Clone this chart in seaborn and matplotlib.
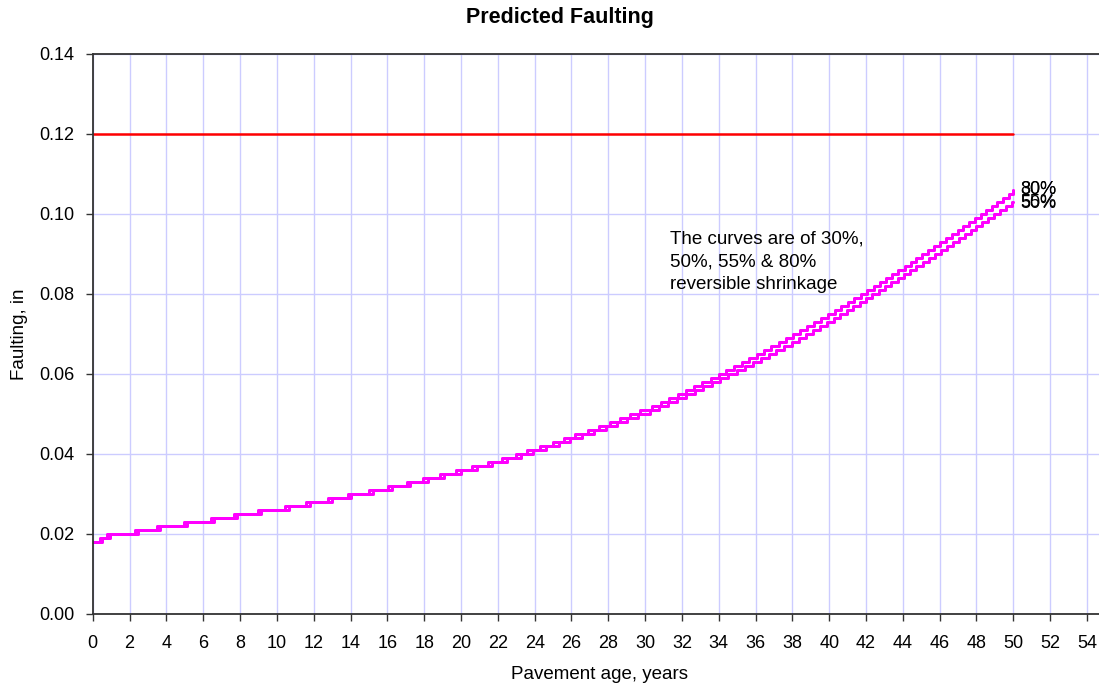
import numpy as np
import pandas as pd
import seaborn as sns
import matplotlib.pyplot as plt
from matplotlib.ticker import FormatStrFormatter

# age (years) at which each faulting level is first reached
upper_age = [0.0, 0.4, 0.8, 2.3, 3.5, 4.95, 6.4, 7.65, 8.95, 10.45, 11.6, 12.8, 13.85,
             15.0, 16.05, 17.05, 17.95, 18.85, 19.75, 20.6, 21.45, 22.25, 23.0, 23.6,
             24.3, 25.0, 25.6, 26.2, 26.9, 27.5, 28.1, 28.65, 29.2, 29.75, 30.37, 30.84,
             31.3, 31.77, 32.22, 32.67, 33.11, 33.56, 34.0, 34.42, 34.83, 35.25, 35.67,
             36.08, 36.47, 36.86, 37.25, 37.65, 38.04, 38.42, 38.79, 39.17, 39.55, 39.92,
             40.29, 40.64, 41.0, 41.36, 41.71, 42.07, 42.41, 42.75, 43.08, 43.42, 43.76,
             44.1, 44.42, 44.74, 45.06, 45.39, 45.71, 46.03, 46.34, 46.66, 46.97, 47.28,
             47.59, 47.91, 48.22, 48.52, 48.83, 49.14, 49.45, 49.75, 50.0]
upper_fault = [0.018, 0.019, 0.020, 0.021, 0.022, 0.023, 0.024, 0.025, 0.026, 0.027,
               0.028, 0.029, 0.030, 0.031, 0.032, 0.033, 0.034, 0.035, 0.036, 0.037,
               0.038, 0.039, 0.040, 0.041, 0.042, 0.043, 0.044, 0.045, 0.046, 0.047,
               0.048, 0.049, 0.050, 0.051, 0.052, 0.053, 0.054, 0.055, 0.056, 0.057,
               0.058, 0.059, 0.060, 0.061, 0.062, 0.063, 0.064, 0.065, 0.066, 0.067,
               0.068, 0.069, 0.070, 0.071, 0.072, 0.073, 0.074, 0.075, 0.076, 0.077,
               0.078, 0.079, 0.080, 0.081, 0.082, 0.083, 0.084, 0.085, 0.086, 0.087,
               0.088, 0.089, 0.090, 0.091, 0.092, 0.093, 0.094, 0.095, 0.096, 0.097,
               0.098, 0.099, 0.100, 0.101, 0.102, 0.103, 0.104, 0.105, 0.106]

lower_age = [0.0, 0.5, 0.95, 2.45, 3.65, 5.1, 6.6, 7.85, 9.15, 10.65, 11.8, 13.0, 14.05,
             15.2, 16.25, 17.25, 18.2, 19.1, 20.0, 20.85, 21.7, 22.5, 23.25, 23.9, 24.6,
             25.3, 25.9, 26.55, 27.2, 27.85, 28.45, 29.0, 29.6, 30.25, 30.75, 31.25,
             31.75, 32.23, 32.7, 33.16, 33.63, 34.09, 34.53, 34.98, 35.42, 35.87, 36.29,
             36.71, 37.13, 37.54, 37.96, 38.35, 38.73, 39.12, 39.5, 39.88, 40.25, 40.6,
             40.95, 41.3, 41.65, 42.0, 42.34, 42.69, 43.03, 43.38, 43.72, 44.07, 44.4,
             44.73, 45.07, 45.4, 45.73, 46.06, 46.39, 46.71, 47.03, 47.35, 47.68, 48.0,
             48.32, 48.65, 48.97, 49.29, 49.61, 49.94, 50.0]
lower_fault = [0.018, 0.019, 0.020, 0.021, 0.022, 0.023, 0.024, 0.025, 0.026, 0.027,
               0.028, 0.029, 0.030, 0.031, 0.032, 0.033, 0.034, 0.035, 0.036, 0.037,
               0.038, 0.039, 0.040, 0.041, 0.042, 0.043, 0.044, 0.045, 0.046, 0.047,
               0.048, 0.049, 0.050, 0.051, 0.052, 0.053, 0.054, 0.055, 0.056, 0.057,
               0.058, 0.059, 0.060, 0.061, 0.062, 0.063, 0.064, 0.065, 0.066, 0.067,
               0.068, 0.069, 0.070, 0.071, 0.072, 0.073, 0.074, 0.075, 0.076, 0.077,
               0.078, 0.079, 0.080, 0.081, 0.082, 0.083, 0.084, 0.085, 0.086, 0.087,
               0.088, 0.089, 0.090, 0.091, 0.092, 0.093, 0.094, 0.095, 0.096, 0.097,
               0.098, 0.099, 0.100, 0.101, 0.102, 0.103, 0.103]

# which curve each shrinkage case follows, and where its end label sits
series_names = ['30%', '50%', '55%', '80%']
series_curve = ['upper', 'lower', 'lower', 'upper']
label_fault = [0.1062, 0.1025, 0.1028, 0.1062]

limit_age = [0, 50]
limit_fault = [0.12, 0.12]

curves = {'upper': (upper_age, upper_fault), 'lower': (lower_age, lower_fault)}
frames = []
for name, c in zip(series_names, series_curve):
    a, f = curves[c]
    frames.append(pd.DataFrame({'age': a, 'faulting': f, 'series': name}))
df = pd.concat(frames, ignore_index=True)

sns.set_theme(style='ticks')
plt.rcParams['font.family'] = ['Liberation Sans', 'DejaVu Sans']
plt.rcParams['text.color'] = 'black'
plt.rcParams['axes.labelcolor'] = 'black'

fig = plt.figure(figsize=(10.99, 6.87), dpi=100)
ax = fig.add_axes([0.0844, 0.1063, 0.9214, 0.8151])

grid_col = '#CCCCFF'
ax.set_axisbelow(True)
ax.grid(True, color=grid_col, linewidth=1.0)

sns.lineplot(x=limit_age, y=limit_fault, color='#FF0000', linewidth=1.8, ax=ax)
sns.lineplot(data=df, x='age', y='faulting', hue='series', units='series', estimator=None,
             palette={n: '#FF00FF' for n in series_names}, linewidth=2.0,
             drawstyle='steps-post', legend=False, ax=ax)

for name, yv in zip(series_names, label_fault):
    ax.text(50.4, yv, name, fontsize=13, va='center', ha='left', color='black')

ax.text(31.36, 0.0958, 'The curves are of 30%,\n50%, 55% & 80%\nreversible shrinkage',
        fontsize=13.5, va='top', ha='left', linespacing=1.42)

ax.set_xlim(0, 55)
ax.set_ylim(0, 0.14)
ax.set_xticks(np.arange(0, 55, 2))
ax.set_yticks(np.arange(0, 0.141, 0.02))
ax.yaxis.set_major_formatter(FormatStrFormatter('%.2f'))
ax.tick_params(axis='both', labelsize=13, length=5, width=1, color='#333333',
               labelcolor='black')
ax.tick_params(axis='x', pad=10.5)
ax.tick_params(axis='y', pad=8)

for side in ['top', 'left', 'bottom']:
    ax.spines[side].set_visible(True)
    ax.spines[side].set_color('#333333')
    ax.spines[side].set_linewidth(1.3)
ax.spines['right'].set_visible(False)

ax.set_xlabel('Pavement age, years', fontsize=13.5, labelpad=10)
ax.set_ylabel('Faulting, in', fontsize=13.5, labelpad=8)
fig.text(0.5096, 0.975, 'Predicted Faulting', fontsize=15.5, fontweight='bold',
         ha='center', va='center')

fig.savefig('out.png', dpi=100)
